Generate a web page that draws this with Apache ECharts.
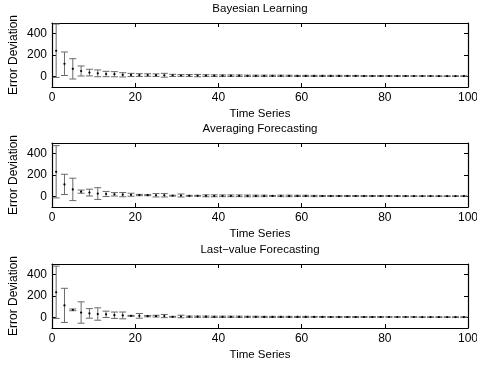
<!DOCTYPE html>
<html>
<head>
<meta charset="utf-8">
<script src="https://cdn.jsdelivr.net/npm/echarts@6/dist/echarts.min.js"></script>
<style>
  html, body { margin: 0; padding: 0; background: #fff; }
  #chart { width: 477px; height: 366px; }
</style>
</head>
<body>
<div id="chart"></div>
<script>
// x positions of the error bars
let xs = [1, 3, 5, 7, 9, 11, 13, 15, 17, 19, 21, 23, 25, 27, 29, 31, 33, 35, 37, 39,
    41, 43, 45, 47, 49, 51, 53, 55, 57, 59, 61, 63, 65, 67, 69, 71, 73, 75, 77, 79,
    81, 83, 85, 87, 89, 91, 93, 95, 97, 99];

// Bayesian Learning
let bayesMean = [240, 118, 70, 50, 35, 28, 22, 20, 14, 13, 12, 12, 11, 10, 9, 8, 8, 7, 7, 6,
    6, 6, 6, 5, 5, 5, 5, 5, 5, 4, 4, 4, 4, 4, 4, 4, 4, 3, 3, 3,
    3, 3, 3, 3, 3, 3, 2, 2, 2, 2];
let bayesErr = [250, 110, 95, 47, 31, 32, 25, 24, 20, 15, 13, 12, 12, 18, 10, 8, 9, 11, 8, 8,
    7, 7, 7, 6, 6, 6, 6, 6, 5, 5, 5, 5, 5, 5, 5, 4, 4, 4, 4, 4,
    4, 4, 4, 3, 3, 3, 3, 3, 3, 3];

// Averaging Forecasting
let avgMean = [230, 112, 65, 44, 35, 26, 22, 19, 16, 15, 12, 11, 10, 10, 6, 8, 5, 5, 5, 5,
    5, 5, 5, 4, 4, 4, 4, 4, 4, 4, 4, 3, 3, 3, 3, 3, 3, 3, 3, 3,
    3, 3, 2, 2, 2, 2, 2, 2, 2, 2];
let avgErr = [245, 95, 105, 15, 32, 55, 24, 16, 20, 14, 6, 5, 16, 16, 4, 14, 4, 4, 9, 9,
    8, 8, 8, 8, 7, 7, 4, 7, 7, 6, 6, 6, 5, 5, 5, 5, 4, 5, 4, 4,
    4, 4, 4, 3, 3, 3, 3, 3, 3, 3];

// Last-value Forecasting
let lastMean = [235, 112, 70, 45, 37, 31, 28, 20, 18, 14, 14, 11, 11, 12, 5, 8, 6, 6, 6, 5,
    5, 5, 5, 5, 5, 4, 4, 4, 4, 4, 4, 4, 4, 3, 3, 3, 3, 3, 3, 3,
    3, 3, 3, 3, 2, 2, 2, 2, 2, 2];
let lastErr = [245, 160, 8, 100, 45, 58, 30, 30, 32, 4, 22, 6, 8, 15, 4, 12, 6, 6, 6, 6,
    6, 6, 6, 5, 5, 5, 5, 5, 5, 5, 5, 4, 4, 4, 4, 4, 4, 4, 4, 4,
    3, 3, 3, 3, 3, 3, 3, 3, 3, 3];

let titles = ['Bayesian Learning', 'Averaging Forecasting', 'Last\u2212value Forecasting'];
let yTicks = [0, 200, 400];

let font = 'Liberation Sans, Arial, Helvetica, sans-serif';
let tops = [23, 143, 264];
let plotH = 64;

// 误差棒
function renderErr(params, api) {
    let x = api.value(0), m = api.value(1), e = api.value(2);
    let hi = api.coord([x, m + e]);
    let lo = api.coord([x, m - e]);
    let c = api.coord([x, m]);
    let w = 3.5;
    let st = { stroke: '#6a6a6a', lineWidth: 1 };
    return {
        type: 'group',
        children: [
            { type: 'line', shape: { x1: hi[0], y1: hi[1], x2: lo[0], y2: lo[1] }, style: st },
            { type: 'line', shape: { x1: hi[0] - w, y1: hi[1], x2: hi[0] + w, y2: hi[1] }, style: st },
            { type: 'line', shape: { x1: lo[0] - w, y1: lo[1], x2: lo[0] + w, y2: lo[1] }, style: st },
            { type: 'circle', shape: { cx: c[0], cy: c[1], r: 1.1 }, style: { fill: '#000' } }
        ]
    };
}

let sets = [[bayesMean, bayesErr], [avgMean, avgErr], [lastMean, lastErr]];

let grid = [], xAxis = [], yAxis = [], series = [], title = [];
sets.forEach(function (s, i) {
    grid.push({ left: 52, width: 416, top: tops[i], height: plotH, show: false, outerBoundsMode: 'none', containLabel: false });
    title.push({
        text: titles[i], left: 260, top: tops[i] - 20, textAlign: 'center', padding: 0,
        textStyle: { fontFamily: font, fontSize: 11.5, fontWeight: 'normal', color: '#000' }
    });
    let axLine = { show: true, onZero: false, lineStyle: { color: '#000', width: 1.2 } };
    let tick = { show: true, inside: true, length: 4, lineStyle: { color: '#000' } };
    xAxis.push({
        type: 'value', gridIndex: i, min: 0, max: 100, interval: 20, position: 'bottom',
        name: 'Time Series', nameLocation: 'middle', nameGap: 21, nameMoveOverlap: false,
        nameTextStyle: { fontFamily: font, fontSize: 11.5, color: '#000' },
        axisLine: axLine, axisTick: tick, splitLine: { show: false },
        axisLabel: { fontFamily: font, fontSize: 12, color: '#000', margin: 5, showMaxLabel: true }
    });
    xAxis.push({
        type: 'value', gridIndex: i, min: 0, max: 100, interval: 20, position: 'top',
        axisLine: axLine, axisTick: tick, axisLabel: { show: false }, splitLine: { show: false }
    });
    yAxis.push({
        type: 'value', gridIndex: i, min: -100, max: 500, position: 'left',
        name: 'Error Deviation', nameLocation: 'middle', nameGap: 32, nameMoveOverlap: false,
        nameTextStyle: { fontFamily: font, fontSize: 12, color: '#000' },
        axisLine: axLine, splitLine: { show: false },
        axisTick: Object.assign({ customValues: yTicks }, tick),
        axisLabel: { customValues: yTicks, fontFamily: font, fontSize: 12, color: '#000', margin: 5 }
    });
    yAxis.push({
        type: 'value', gridIndex: i, min: -100, max: 500, position: 'right',
        axisLine: axLine, splitLine: { show: false },
        axisTick: Object.assign({ customValues: yTicks }, tick),
        axisLabel: { show: false }
    });
    let data = xs.map(function (x, k) { return [x, s[0][k], s[1][k]]; });
    series.push({
        type: 'custom', xAxisIndex: i * 2, yAxisIndex: i * 2, clip: true,
        renderItem: renderErr, data: data, animation: false
    });
});

let myChart = echarts.init(document.getElementById('chart'));
myChart.setOption({
    animation: false,
    backgroundColor: '#fff',
    title: title,
    grid: grid,
    xAxis: xAxis,
    yAxis: yAxis,
    series: series
});
</script>
</body>
</html>
